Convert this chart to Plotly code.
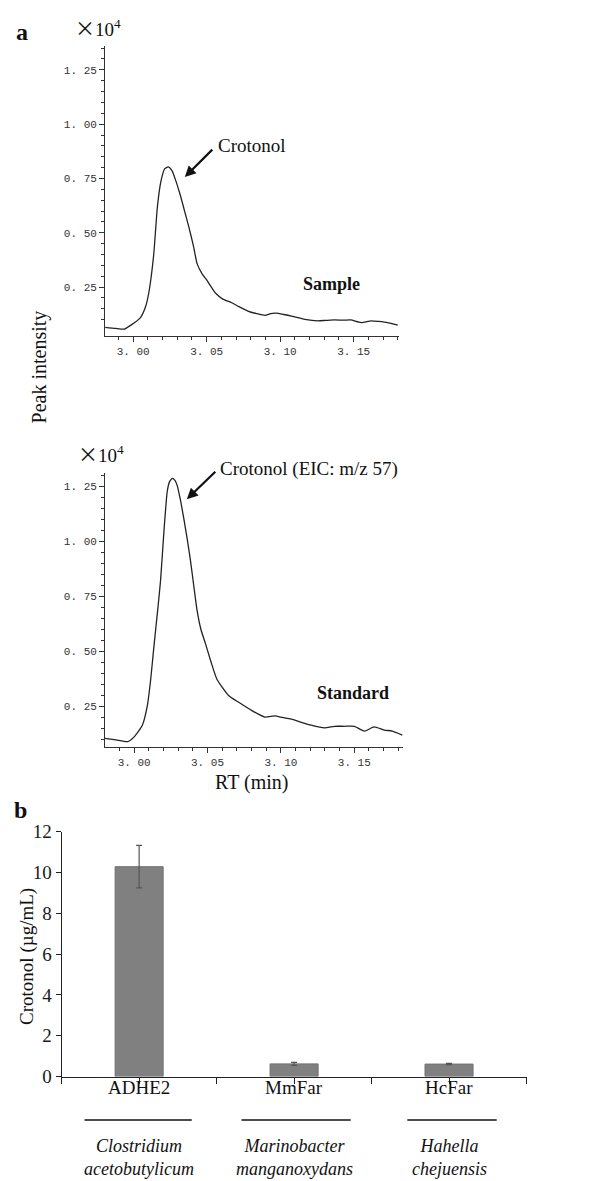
import plotly.graph_objects as go

W, H = 598, 1181

# ---------------- data ----------------
sample_rt = [2.981, 2.988, 2.994, 2.9985, 3.005, 3.0086, 3.011, 3.014, 3.0165, 3.019,
             3.0215, 3.0239, 3.0265, 3.029, 3.032, 3.035, 3.038, 3.041, 3.0435, 3.047,
             3.050, 3.056, 3.061, 3.067, 3.072, 3.078, 3.084, 3.0897, 3.0935, 3.0973,
             3.1025, 3.1076, 3.1168, 3.1257, 3.131, 3.137, 3.143, 3.148, 3.155, 3.162,
             3.167, 3.173, 3.180]
sample_int = [0.065, 0.060, 0.057, 0.075, 0.11, 0.163, 0.238, 0.40, 0.62, 0.74,
              0.795, 0.803, 0.785, 0.74, 0.675, 0.60, 0.524, 0.44, 0.358, 0.31,
              0.283, 0.223, 0.195, 0.178, 0.16, 0.14, 0.128, 0.12, 0.128, 0.13,
              0.124, 0.117, 0.102, 0.095, 0.097, 0.099, 0.098, 0.099, 0.087, 0.095,
              0.092, 0.087, 0.075]

standard_rt = [2.980, 2.9876, 2.9955, 3.000, 3.0056, 3.009, 3.0113, 3.0135, 3.0158, 3.018,
               3.0203, 3.0225, 3.024, 3.026, 3.0278, 3.0293, 3.0315, 3.0338, 3.0362, 3.0384,
               3.0406, 3.0428, 3.0455, 3.0485, 3.0525, 3.0564, 3.0643, 3.071, 3.080, 3.089,
               3.0959, 3.101, 3.107, 3.1206, 3.1297, 3.1365, 3.143, 3.150, 3.1568, 3.1635,
               3.1703, 3.1759, 3.1827]
standard_int = [0.105, 0.098, 0.09, 0.112, 0.165, 0.254, 0.374, 0.523, 0.672, 0.822,
                1.046, 1.225, 1.27, 1.287, 1.278, 1.255, 1.19, 1.106, 1.01, 0.912,
                0.80, 0.69, 0.60, 0.538, 0.45, 0.374, 0.30, 0.27, 0.232, 0.202,
                0.207, 0.20, 0.192, 0.165, 0.153, 0.16, 0.16, 0.16, 0.138, 0.157,
                0.143, 0.138, 0.12]

rt_ticks = [3.00, 3.05, 3.10, 3.15]
rt_ticktext = ["3. 00", "3. 05", "3. 10", "3. 15"]
int_ticks = [0.25, 0.50, 0.75, 1.00, 1.25]
int_ticktext = ["0. 25", "0. 50", "0. 75", "1. 00", "1. 25"]
int_minor = [0.10, 0.15, 0.20, 0.30, 0.35, 0.40, 0.45, 0.55, 0.60, 0.65, 0.70,
             0.80, 0.85, 0.90, 0.95, 1.05, 1.10, 1.15, 1.20, 1.30, 1.35]

enzymes = ["ADHE2", "MmFar", "HcFar"]
species = ["Clostridium<br>acetobutylicum", "Marinobacter<br>manganoxydans", "Hahella<br>chejuensis"]
crotonol = [10.28, 0.62, 0.61]
crotonol_err = [1.04, 0.07, 0.03]
bar_yticks = [0, 2, 4, 6, 8, 10, 12]

# ---------------- helpers ----------------
def px(x):
    return x / W

def py(y):
    return 1 - y / H

SERIF = "Liberation Serif"
MONO = "Liberation Mono"
AX = "#333333"

fig = go.Figure()

fig.add_trace(go.Scatter(x=sample_rt, y=sample_int, mode="lines",
                         line=dict(color="#222222", width=1.3, shape="spline", smoothing=0.5),
                         xaxis="x", yaxis="y", showlegend=False))
fig.add_trace(go.Scatter(x=standard_rt, y=standard_int, mode="lines",
                         line=dict(color="#222222", width=1.3, shape="spline", smoothing=0.5),
                         xaxis="x2", yaxis="y2", showlegend=False))

bar_x = list(range(len(enzymes)))
fig.add_trace(go.Bar(x=bar_x, y=crotonol, width=0.31,
                     marker=dict(color="#808080", line=dict(color="#707070", width=1)),
                     error_y=dict(type="data", array=crotonol_err, color="#555555",
                                  thickness=1.2, width=3),
                     xaxis="x3", yaxis="y3", showlegend=False))

TICKFONT = dict(family=MONO, size=11, color="#333333")
chrom_x = dict(showline=True, linecolor=AX, linewidth=1, ticks="outside", ticklen=5,
               tickcolor=AX, tickwidth=1, tickvals=rt_ticks, ticktext=rt_ticktext,
               tickfont=TICKFONT, showgrid=False, zeroline=False,
               minor=dict(ticks="outside", ticklen=3, dtick=0.01, tick0=3.0,
                          tickcolor=AX, tickwidth=1, showgrid=False))
chrom_y = dict(showline=True, linecolor=AX, linewidth=1, ticks="outside", ticklen=5,
               tickcolor=AX, tickwidth=1, tickvals=int_ticks, ticktext=int_ticktext,
               tickfont=TICKFONT, showgrid=False, zeroline=False,
               minor=dict(ticks="outside", ticklen=3, tickvals=int_minor,
                          tickcolor=AX, tickwidth=1, showgrid=False))

fig.update_layout(
    width=W, height=H,
    margin=dict(l=0, r=0, t=0, b=0),
    paper_bgcolor="white", plot_bgcolor="white",
    showlegend=False,
    xaxis=dict(domain=[px(95.7), px(392)], range=[2.9809, 3.1811], anchor="y", **chrom_x),
    yaxis=dict(domain=[py(324), py(28)], range=[0.024, 1.362], anchor="x", **chrom_y),
    xaxis2=dict(domain=[px(95.7), px(396)], range=[2.9802, 3.1834], anchor="y2", **chrom_x),
    yaxis2=dict(domain=[py(741.7), py(463)], range=[0.068, 1.3125], anchor="x2", **chrom_y),
    xaxis3=dict(domain=[px(52), px(520)], range=[-0.5, 2.5], anchor="y3",
                showline=True, linecolor="#222222", linewidth=1.2,
                ticks="outside", ticklen=6, tickcolor="#222222", tickwidth=1.2,
                tickvals=[-0.5, 0, 0.5, 1, 1.5, 2, 2.5], ticktext=[" "] * 7,
                showgrid=False, zeroline=False),
    yaxis3=dict(domain=[py(1077.7), py(828.3)], range=[0, 12], anchor="x3",
                showline=True, linecolor="#222222", linewidth=1.2,
                ticks="outside", ticklen=5, tickcolor="#222222", tickwidth=1.2,
                tickvals=bar_yticks, tickfont=dict(family=SERIF, size=19, color="#1a1a1a"),
                showgrid=False, zeroline=False),
)

ann = []

def text(x, y, s, size, bold=False, italic=False, xanchor="center", angle=0, color="#111111"):
    if bold:
        s = "<b>" + s + "</b>"
    if italic:
        s = "<i>" + s + "</i>"
    ann.append(dict(x=px(x), y=py(y), xref="paper", yref="paper", text=s, showarrow=False,
                    xanchor=xanchor, yanchor="middle", textangle=angle,
                    font=dict(family=SERIF, size=size, color=color)))

X104 = "<span style='font-family:Noto Sans CJK SC;font-size:20px'>×</span>10<sup>4</sup>"
text(4, 14, "a", 24, bold=True, xanchor="left")
text(63, 10, X104, 19, xanchor="left")
text(66, 443, X104, 19, xanchor="left")
text(30, 355, "Peak intensity", 20, angle=-90)
text(207, 130, "Crotonol", 19, xanchor="left")
text(209, 459, "Crotonol (EIC: m/z 57)", 19, xanchor="left")
text(324, 271, "Sample", 18, bold=True)
text(345, 687, "Standard", 18, bold=True)
text(243, 778, "RT (min)", 20)
text(2, 806, "b", 24, bold=True, xanchor="left")
text(17, 955, "Crotonol (µg/mL)", 19, angle=-90)

# arrows
for (hx, hy, tx, ty) in [(176, 162, 205, 133), (178, 490, 208, 461)]:
    ann.append(dict(x=px(hx), y=py(hy), xref="paper", yref="paper",
                    ax=tx - hx, ay=ty - hy, axref="pixel", ayref="pixel",
                    text="", showarrow=True, arrowhead=2, arrowsize=1.0,
                    arrowwidth=2.2, arrowcolor="#111111"))

# bar category labels
for i, (e, s) in enumerate(zip(enzymes, species)):
    ann.append(dict(x=bar_x[i], y=py(1089), xref="x3", yref="paper", text=e,
                    showarrow=False, xanchor="center", yanchor="middle",
                    font=dict(family=SERIF, size=19, color="#111111")))
    ann.append(dict(x=bar_x[i], y=py(1160), xref="x3", yref="paper", text="<i>" + s + "</i>",
                    showarrow=False, xanchor="center", yanchor="middle",
                    font=dict(family=SERIF, size=18, color="#111111")))

fig.update_layout(annotations=ann)

# underline bars between enzyme and species
for (x0, x1) in [(75, 183), (233, 343), (400, 490)]:
    fig.add_shape(type="line", xref="paper", yref="paper",
                  x0=px(x0), x1=px(x1), y0=py(1122), y1=py(1122),
                  line=dict(color="#111111", width=1.5))

fig.write_html("out.html")
